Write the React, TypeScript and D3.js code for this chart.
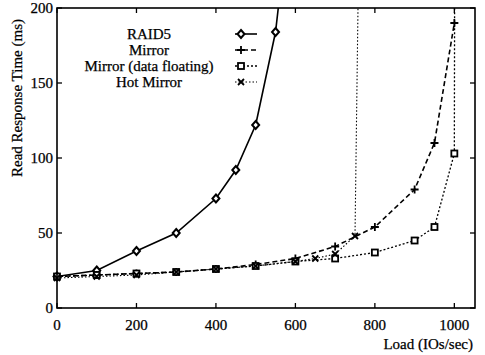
import React from "react";
import * as d3 from "d3";

const loads = [0, 100, 200, 300, 400, 450, 500, 550, 600];
const raid5 = [21, 25, 38, 50, 73, 92, 122, 184, 300];

const mirrorLoads = [0, 100, 200, 300, 400, 500, 600, 700, 800, 900, 950, 1000];
const mirror = [21, 22, 23, 24, 26, 29, 33, 41, 54, 79, 110, 190];

const floatLoads = [0, 100, 200, 300, 400, 500, 600, 700, 800, 900, 950, 1000, 1001];
const floating = [21, 22, 23, 24, 26, 28, 31, 33, 37, 45, 54, 103, 250];

const hotLoads = [0, 100, 200, 300, 400, 500, 600, 650, 700, 750, 760];
const hot = [20, 21, 22, 24, 26, 28, 31, 33, 36, 48, 250];

const xTicks = [0, 200, 400, 600, 800, 1000];
const yTicks = [0, 50, 100, 150, 200];
const legendNames = ["RAID5", "Mirror", "Mirror (data floating)", "Hot Mirror"];

const W = 485, H = 355;
const L = 57, R = 475, T = 8, B = 308;
const FONT = "'Liberation Serif', 'DejaVu Serif', serif";

export default function App() {
  const x = d3.scaleLinear().domain([0, 1052]).range([L, R]);
  const y = d3.scaleLinear().domain([0, 200]).range([B, T]);
  const line = d3.line<[number, number]>().x(d => x(d[0])).y(d => y(d[1]));

  const pts = (xs: number[], ys: number[]) => xs.map((v, i) => [v, ys[i]] as [number, number]);
  const inside = (p: [number, number]) => p[1] <= 200;

  const diamond = (cx: number, cy: number, k: string) => (
    <path key={k} d={`M${cx},${cy - 4}L${cx + 3.5},${cy}L${cx},${cy + 4}L${cx - 3.5},${cy}Z`} fill="white" stroke="black" strokeWidth={2} />
  );
  const plus = (cx: number, cy: number, k: string) => (
    <path key={k} d={`M${cx - 4},${cy}H${cx + 4}M${cx},${cy - 4}V${cy + 4}`} stroke="black" strokeWidth={1.8} fill="none" />
  );
  const square = (cx: number, cy: number, k: string) => (
    <rect key={k} x={cx - 3} y={cy - 3} width={6} height={6} fill="white" stroke="black" strokeWidth={1.8} />
  );
  const cross = (cx: number, cy: number, k: string) => (
    <path key={k} d={`M${cx - 3},${cy - 3}L${cx + 3},${cy + 3}M${cx + 3},${cy - 3}L${cx - 3},${cy + 3}`} stroke="black" strokeWidth={1.8} fill="none" />
  );

  const series = [
    { p: pts(loads, raid5), dash: undefined as string | undefined, m: diamond, w: 1.6 },
    { p: pts(mirrorLoads, mirror), dash: "5,3", m: plus, w: 1.6 },
    { p: pts(floatLoads, floating), dash: "2,2", m: square, w: 1.3 },
    { p: pts(hotLoads, hot), dash: "1.5,2", m: cross, w: 1.1 },
  ];

  const legendY = [34, 50, 66, 82];

  return (
    <svg width={W} height={H} style={{ position: "absolute", left: 0, top: 0, background: "white" }} fontFamily={FONT}>
      <defs>
        <clipPath id="plot">
          <rect x={L} y={T} width={R - L} height={B - T} />
        </clipPath>
      </defs>
      <rect x={0} y={0} width={W} height={H} fill="white" />
      <g clipPath="url(#plot)">
        {series.map((s, i) => (
          <path key={i} d={line(s.p) || ""} fill="none" stroke="black" strokeWidth={s.w} strokeDasharray={s.dash} />
        ))}
      </g>
      {series.map((s, i) => (
        <g key={"m" + i}>{s.p.filter(inside).map((p, j) => s.m(x(p[0]), y(p[1]), `${i}-${j}`))}</g>
      ))}
      <rect x={L} y={T} width={R - L} height={B - T} fill="none" stroke="black" strokeWidth={1.6} />
      <g stroke="black" strokeWidth={0.25}>
        {xTicks.map(t => (
          <g key={"x" + t}>
            <line x1={x(t)} x2={x(t)} y1={B} y2={B - 5} stroke="black" strokeWidth={1.3} />
            <line x1={x(t)} x2={x(t)} y1={T} y2={T + 5} stroke="black" strokeWidth={1.3} />
            <text x={x(t)} y={330} textAnchor="middle" fontSize={15}>{t}</text>
          </g>
        ))}
        {yTicks.map(t => (
          <g key={"y" + t}>
            <line x1={L} x2={L + 5} y1={y(t)} y2={y(t)} stroke="black" strokeWidth={1.3} />
            <line x1={R} x2={R - 5} y1={y(t)} y2={y(t)} stroke="black" strokeWidth={1.3} />
            <text x={L - 4} y={y(t) + 5} textAnchor="end" fontSize={15}>{t}</text>
          </g>
        ))}
        <text x={473} y={349} textAnchor="end" fontSize={15}>Load (IOs/sec)</text>
        <text transform={`translate(22,98) rotate(-90)`} textAnchor="middle" fontSize={15}>Read Response Time (ms)</text>
        {legendNames.map((n, i) => (
          <text key={"lt" + i} x={149} y={legendY[i] + 5} textAnchor="middle" fontSize={15}>{n}</text>
        ))}
      </g>
      {legendNames.map((n, i) => (
        <g key={"l" + i}>
          <line x1={235} x2={257} y1={legendY[i]} y2={legendY[i]} stroke="black" strokeWidth={series[i].w} strokeDasharray={series[i].dash} />
          {series[i].m(241, legendY[i], "lm" + i)}
        </g>
      ))}
    </svg>
  );
}
